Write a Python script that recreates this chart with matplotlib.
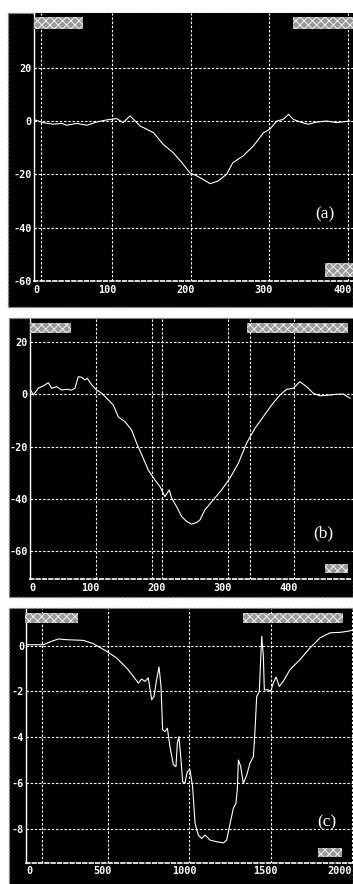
import matplotlib
matplotlib.use("Agg")
import matplotlib.pyplot as plt
from matplotlib.patches import Rectangle
from matplotlib.transforms import ScaledTranslation

# ---------------- data ----------------
a_x = [2, 12, 25, 36, 42, 55, 68, 80, 93, 106, 114, 123, 136, 153, 165, 178, 189, 199, 208, 216,
       225, 235, 246, 254, 267, 280, 293, 301, 310, 318, 325, 331, 340, 350, 361, 373, 386, 403]
a_y = [0.4, -0.6, -1.2, -0.9, -1.6, -0.9, -1.6, -0.4, 0.4, 0.9, -0.6, 1.9, -1.9, -4.4, -8.7, -11.9,
       -15.6, -19.4, -20.6, -21.9, -23.5, -22.5, -20.0, -15.6, -13.1, -9.4, -4.4, -3.1, 0.0, 0.6,
       2.5, 0.6, -0.4, -1.2, -0.4, 0.0, -0.6, 0.0]

b_x = [1.5, 5.5, 13, 20.6, 28.2, 33.3, 40.9, 48.5, 56, 63.6, 68.6, 73.6, 78.8, 83.8, 87.3, 93.9,
       101.5, 109, 116.6, 126.7, 134.2, 144.4, 154.5, 162, 172.1, 179.7, 189.8, 197.4, 204.9, 211.5,
       215.2, 222.7, 230.3, 237.9, 245.5, 253, 258, 265.6, 278.3, 290.9, 303.5, 316.2, 328.8, 341.4,
       354, 366.7, 379.3, 389.4, 399.5, 409.5, 419.7, 429.8, 439.8, 455, 465, 475, 485.3]
b_y = [1.6, -0.3, 2.3, 3.2, 4.4, 2.3, 2.9, 1.6, 1.9, 1.6, 2.3, 6.7, 6.5, 5.5, 6.1, 3.6, 1.6, 0.4,
       -1.5, -4.1, -8.6, -10.5, -13.7, -18.7, -24.5, -29.0, -32.8, -35.3, -39.2, -36.6, -39.8, -43.0,
       -46.8, -48.7, -49.7, -49.1, -48.1, -44.2, -40.4, -36.6, -32.1, -26.4, -18.7, -13.0, -8.6, -4.1,
       -0.3, 1.9, 2.3, 4.8, 2.9, 0.4, -0.6, -0.3, 0.0, 0.1, -1.5]

c_x = [0, 105, 156, 197, 248, 350, 412, 494, 555, 617, 657, 688, 708, 729, 749, 770, 784, 800, 815,
       827, 837, 852, 866, 882, 903, 919, 927, 937, 948, 960, 974, 988, 1005, 1021, 1036, 1056, 1077,
       1097, 1128, 1168, 1210, 1230, 1251, 1271, 1287, 1295, 1302, 1316, 1332, 1353, 1373, 1394, 1404,
       1414, 1430, 1445, 1455, 1461, 1485, 1500, 1516, 1533, 1553, 1577, 1618, 1680, 1741, 1803, 1864,
       1925, 1976, 1997]
c_y = [0.04, 0.04, 0.19, 0.29, 0.26, 0.23, 0.09, -0.25, -0.54, -0.98, -1.34, -1.63, -1.46, -1.56,
       -1.41, -2.36, -2.22, -1.49, -0.93, -1.78, -3.68, -3.75, -3.6, -4.41, -5.2, -5.28, -4.26, -3.97,
       -4.84, -5.94, -6.01, -5.5, -5.43, -6.16, -7.76, -8.27, -8.42, -8.27, -8.49, -8.56, -8.61, -8.49,
       -7.76, -7.1, -6.88, -6.3, -4.99, -5.28, -6.01, -5.65, -5.13, -4.84, -3.68, -2.22, -2.0, 0.41,
       -0.47, -1.93, -1.93, -2.0, -1.63, -1.37, -1.78, -1.56, -1.05, -0.61, -0.1, 0.34, 0.56, 0.58,
       0.63, 0.67]

a_xticks = [0, 100, 200, 300, 400]
a_yticks = [20, 0, -20, -40, -60]
b_xticks = [0, 100, 200, 300, 400]
b_yticks = [20, 0, -20, -40, -60]
c_xticks = [0, 500, 1000, 1500, 2000]
c_yticks = [0, -2, -4, -6, -8]
a_markers = [10]
b_markers = [185, 334]
c_markers = [100]
labels = ["(a)", "(b)", "(c)"]

# ---------------- figure ----------------
W, H = 353, 884
fig = plt.figure(figsize=(W / 100, H / 100), dpi=100)
fig.patch.set_facecolor("white")
plt.rcParams["hatch.linewidth"] = 0.7


def fx(px):
    return px / W


def fy(py):
    return 1 - py / H


def add_box(x0, y0, x1, y1):
    r = Rectangle((fx(x0), fy(y1)), fx(x1) - fx(x0), fy(y0) - fy(y1), transform=fig.transFigure,
                  facecolor="#9a9a9a", edgecolor="#f0f0f0", hatch="xxxx", linewidth=0, zorder=10)
    fig.add_artist(r)


panels = [
    dict(px=(8, 353, 13, 307), ax=(33.5, 353, 13, 281), xlim=(0, 407), ylim=(-60, 40.5),
         x=a_x, y=a_y, xt=a_xticks, yt=a_yticks, mk=a_markers, lab=(325, 214), xpad=3.2,
         lastright=False,
         boxes=[(34, 17, 83, 29), (293, 17, 353, 29), (325, 263, 353, 277)]),
    dict(px=(9, 353, 318, 597), ax=(29.7, 353, 319, 579), xlim=(0, 490), ylim=(-70.7, 28.8),
         x=b_x, y=b_y, xt=b_xticks, yt=b_yticks, mk=b_markers, lab=(323, 533), xpad=3.2,
         lastright=False,
         boxes=[(30, 323, 71, 333), (247, 323, 348, 333), (325, 564, 348, 573)]),
    dict(px=(9, 353, 608, 890), ax=(26.2, 353, 609, 863), xlim=(0, 2005), ylim=(-9.49, 1.6),
         x=c_x, y=c_y, xt=c_xticks, yt=c_yticks, mk=c_markers, lab=(327, 822), xpad=2.2,
         lastright=True,
         boxes=[(25, 613, 78, 623), (243, 613, 343, 623), (318, 848, 342, 857)]),
]

dash = (0, (2.2, 1.6))
for i, p in enumerate(panels):
    x0, x1, y0, y1 = p["px"]
    bg = Rectangle((fx(x0), fy(y1)), fx(x1) - fx(x0), fy(y0) - fy(y1), transform=fig.transFigure,
                   facecolor="black", edgecolor="#8a8a8a", linestyle=(0, (1.5, 1.5)),
                   linewidth=1.0, zorder=0)
    fig.add_artist(bg)

    ax0, ax1, ay0, ay1 = p["ax"]
    ax = fig.add_axes([fx(ax0), fy(ay1), fx(ax1) - fx(ax0), fy(ay0) - fy(ay1)])
    ax.set_facecolor("black")
    ax.set_xlim(*p["xlim"])
    ax.set_ylim(*p["ylim"])
    ax.set_xticks(p["xt"])
    ax.set_xticklabels([str(v) for v in p["xt"]])
    ax.set_yticks(p["yt"])
    ax.set_yticklabels([str(v) for v in p["yt"]])
    ax.tick_params(length=0, colors="white", labelsize=7.3)
    ax.tick_params(axis="x", pad=p["xpad"])
    ax.tick_params(axis="y", pad=1.5)
    for t in ax.get_xticklabels() + ax.get_yticklabels():
        t.set_fontfamily("DejaVu Sans Mono")
        t.set_fontweight("bold")
    xl = ax.get_xticklabels()
    xl[0].set_horizontalalignment("left")
    off = ScaledTranslation(-5 / 100, 0, fig.dpi_scale_trans)
    last = len(xl) - 1
    for j, t in enumerate(xl[1:], start=1):
        if p["lastright"] and j == last:
            t.set_horizontalalignment("right")
        else:
            t.set_transform(t.get_transform() + off)
    ax.grid(True, color="white", linestyle=dash, linewidth=0.8)
    for m in p["mk"]:
        ax.axvline(m, color="white", linestyle=dash, linewidth=0.8)
    for s in ["top", "right"]:
        ax.spines[s].set_visible(False)
    ax.spines["left"].set_color("white")
    ax.spines["left"].set_linewidth(1.0)
    ax.spines["bottom"].set_color("white")
    ax.spines["bottom"].set_linestyle(dash)
    ax.spines["bottom"].set_linewidth(1.2)
    ax.plot(p["x"], p["y"], color="white", linewidth=0.8, clip_on=True)

    for b in p["boxes"]:
        add_box(*b)
    lx, ly = p["lab"]
    fig.text(fx(lx), fy(ly), labels[i], color="white", fontsize=12.5, ha="center", va="center",
             family=["Liberation Serif", "DejaVu Serif"], zorder=11)

fig.savefig("out.png", dpi=100, facecolor="white")
